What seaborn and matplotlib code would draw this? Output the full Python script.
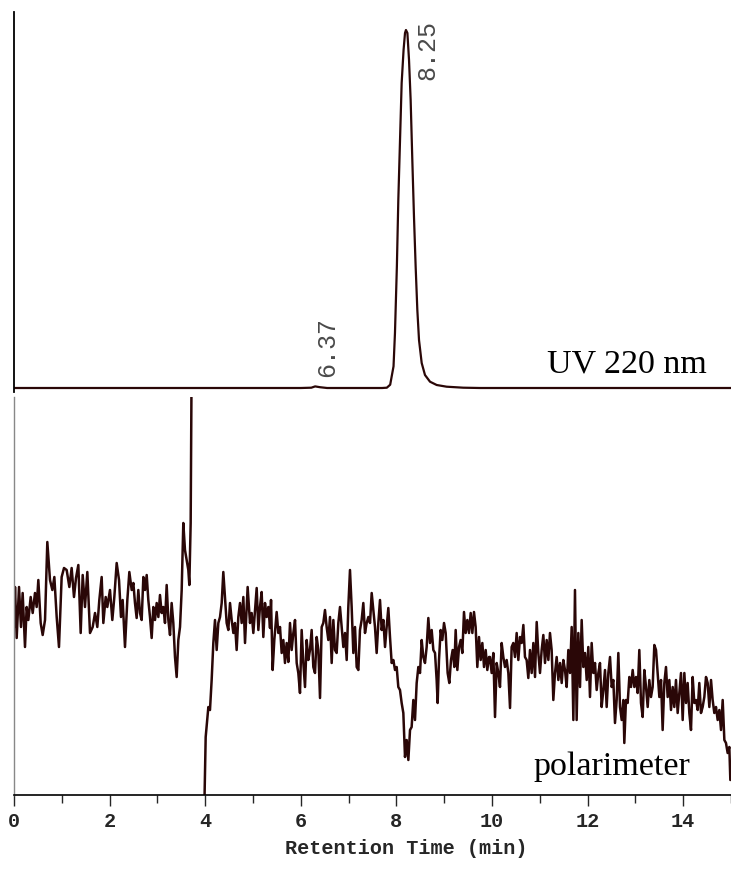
import numpy as np
import pandas as pd
import matplotlib
matplotlib.use("Agg")
import matplotlib.pyplot as plt
import seaborn as sns
from matplotlib.ticker import MultipleLocator

# UV 220 nm trace (mAU)
uv_time = [0.0, 6.0, 6.22, 6.30, 6.40, 6.55, 7.70, 7.80, 7.87, 7.94, 7.97, 8.01, 8.04,
           8.08, 8.11, 8.15, 8.18, 8.20, 8.23, 8.264, 8.298, 8.333, 8.368, 8.403,
           8.438, 8.473, 8.529, 8.598, 8.703, 8.843, 9.051, 9.40, 9.75, 15.0]
uv_mau = [0, 0, 0.3, 1.6, 0.8, 0, 0, 0.3, 3.3, 21.7, 55, 121.7, 188,
          255, 305, 338, 355, 358, 355, 328, 288, 228, 171, 121,
          78, 48, 25, 13, 6.3, 3, 1.3, 0.3, 0, 0]

# peak labels
peak_times = [6.37, 8.25]
peak_labels = ["6.37", "8.25"]
peak_label_pos = [(6.30, 11), (8.39, 308)]

# polarimeter trace, part 1 (before detector overload at ~3.7 min)
pol_time_1 = [0.0, 0.021, 0.056, 0.105, 0.146, 0.181, 0.230, 0.265, 0.300, 0.349, 0.391,
              0.439, 0.474, 0.509, 0.558, 0.600, 0.649, 0.697, 0.753, 0.802, 0.844,
              0.893, 0.941, 0.997, 1.046, 1.102, 1.158, 1.206, 1.255, 1.297, 1.346,
              1.395, 1.437, 1.485, 1.534, 1.590, 1.646, 1.695, 1.743, 1.785, 1.834,
              1.869, 1.918, 1.952, 2.008, 2.057, 2.099, 2.148, 2.197, 2.238, 2.273,
              2.322, 2.371, 2.413, 2.462, 2.497, 2.531, 2.566, 2.601, 2.636, 2.671,
              2.706, 2.741, 2.776, 2.810, 2.845, 2.880, 2.915, 2.950, 2.985, 3.020,
              3.054, 3.089, 3.124, 3.159, 3.194, 3.229, 3.264, 3.298, 3.333, 3.368,
              3.403, 3.438, 3.473, 3.508, 3.542, 3.577, 3.612, 3.647, 3.668, 3.696,
              3.717]
pol_sig_1 = [168, 208, 157, 208, 168, 202, 148, 188, 175, 198, 182,
             202, 188, 215, 172, 160, 175, 253, 215, 205, 218,
             178, 148, 218, 227, 225, 208, 227, 198, 217, 230,
             162, 220, 188, 223, 162, 168, 182, 168, 195, 218,
             172, 198, 188, 205, 175, 198, 232, 215, 178, 195,
             148, 195, 223, 205, 212, 192, 177, 205, 182, 175,
             218, 205, 220, 195, 178, 157, 188, 175, 192, 178,
             200, 182, 188, 172, 210, 175, 160, 192, 172, 138,
             118, 155, 168, 205, 272, 245, 235, 225, 210, 272,
             440]

# polarimeter trace, part 2 (after the signal comes back on scale)
pol_time_2 = [3.975, 4.010, 4.066, 4.100, 4.135, 4.170, 4.205, 4.240, 4.275, 4.310, 4.345,
              4.379, 4.414, 4.449, 4.484, 4.519, 4.554, 4.589, 4.623, 4.658, 4.693,
              4.728, 4.763, 4.798, 4.833, 4.888, 4.937, 4.972, 5.007, 5.042, 5.077,
              5.112, 5.146, 5.181, 5.216, 5.251, 5.286, 5.321, 5.356, 5.377, 5.411,
              5.446, 5.495, 5.530, 5.565, 5.600, 5.635, 5.669, 5.704, 5.739, 5.774,
              5.809, 5.844, 5.879, 5.914, 5.948, 5.983, 6.018, 6.053, 6.088, 6.123,
              6.158, 6.192, 6.227, 6.262, 6.297, 6.332, 6.367, 6.402, 6.437, 6.471,
              6.506, 6.541, 6.576, 6.611, 6.646, 6.681, 6.715, 6.750, 6.785, 6.820,
              6.855, 6.890, 6.925, 6.960, 6.994, 7.029, 7.064, 7.099, 7.134, 7.169,
              7.204, 7.238, 7.273, 7.308, 7.343, 7.378, 7.413, 7.448, 7.483, 7.517,
              7.552, 7.587, 7.622, 7.657, 7.692, 7.727, 7.762, 7.796, 7.831, 7.866,
              7.901, 7.936, 7.971, 8.006, 8.040, 8.075, 8.110, 8.145, 8.180, 8.215,
              8.250, 8.285, 8.319, 8.354, 8.389, 8.424, 8.459, 8.494, 8.529, 8.563,
              8.598, 8.633, 8.668, 8.703, 8.738, 8.773, 8.808, 8.842, 8.863, 8.891,
              8.926, 8.961, 8.996, 9.031, 9.072, 9.107, 9.142, 9.177, 9.212, 9.240,
              9.275, 9.310, 9.344, 9.379, 9.414, 9.449, 9.484, 9.519, 9.554, 9.589,
              9.623, 9.658, 9.693, 9.728, 9.763, 9.798, 9.833, 9.868, 9.902, 9.937,
              9.958, 9.993, 10.028, 10.063, 10.098, 10.133, 10.167, 10.202, 10.237, 10.272,
              10.307, 10.342, 10.377, 10.411, 10.446, 10.481, 10.516, 10.551, 10.586, 10.621,
              10.656, 10.690, 10.725, 10.760, 10.795, 10.830, 10.865, 10.900, 10.935, 10.969,
              11.004, 11.039, 11.074, 11.109, 11.144, 11.179, 11.213, 11.248, 11.283, 11.318,
              11.353, 11.388, 11.423, 11.458, 11.492, 11.527, 11.562, 11.597, 11.632, 11.667,
              11.702, 11.736, 11.771, 11.806, 11.841, 11.876, 11.911, 11.946, 11.981, 12.015,
              12.050, 12.085, 12.120, 12.155, 12.190, 12.225, 12.259, 12.294, 12.329, 12.364,
              12.399, 12.434, 12.469, 12.504, 12.538, 12.573, 12.608, 12.643, 12.678, 12.713,
              12.748, 12.768, 12.803, 12.838, 12.873, 12.908, 12.943, 12.978, 13.013, 13.047,
              13.082, 13.117, 13.152, 13.187, 13.222, 13.257, 13.291, 13.326, 13.361, 13.396,
              13.431, 13.466, 13.501, 13.536, 13.570, 13.605, 13.640, 13.675, 13.710, 13.745,
              13.780, 13.814, 13.849, 13.884, 13.919, 13.954, 13.989, 14.024, 14.059, 14.093,
              14.128, 14.163, 14.198, 14.233, 14.268, 14.303, 14.337, 14.372, 14.407, 14.442,
              14.477, 14.512, 14.547, 14.582, 14.616, 14.651, 14.686, 14.721, 14.756, 14.791,
              14.826, 14.861, 14.895, 14.930, 14.965, 14.986]
pol_sig_2 = [-30, 58, 88, 85, 115, 152, 175, 145, 172, 178, 192,
             223, 198, 172, 165, 192, 175, 162, 172, 145, 178,
             192, 172, 198, 152, 208, 172, 182, 162, 185, 207,
             165, 188, 203, 158, 192, 178, 188, 167, 195, 125,
             155, 183, 162, 168, 142, 155, 132, 152, 133, 172,
             145, 162, 175, 132, 122, 102, 165, 132, 108, 155,
             135, 145, 165, 128, 122, 158, 145, 97, 168, 172,
             185, 168, 155, 178, 132, 175, 145, 142, 172, 188,
             168, 148, 162, 135, 188, 225, 188, 142, 168, 128,
             125, 165, 175, 192, 162, 172, 178, 172, 202, 185,
             168, 142, 172, 195, 165, 175, 148, 168, 187, 158,
             132, 135, 125, 128, 108, 105, 92, 82, 38, 55,
             35, 65, 68, 95, 75, 112, 128, 122, 155, 138,
             132, 148, 177, 152, 165, 145, 142, 115, 92, 135,
             165, 155, 172, 162, 122, 112, 135, 145, 128, 165,
             125, 148, 155, 142, 183, 162, 175, 162, 182, 162,
             183, 168, 128, 158, 135, 152, 128, 145, 125, 138,
             138, 122, 142, 78, 132, 122, 108, 152, 138, 128,
             135, 122, 87, 148, 152, 138, 162, 135, 158, 152,
             170, 138, 135, 117, 145, 122, 152, 118, 173, 142,
             122, 145, 160, 132, 155, 135, 162, 145, 95, 122,
             138, 115, 132, 112, 135, 125, 108, 145, 122, 168,
             75, 205, 75, 162, 108, 175, 128, 142, 115, 148,
             98, 152, 122, 132, 105, 122, 132, 88, 105, 125,
             88, 122, 138, 108, 115, 72, 95, 142, 88, 75,
             95, 52, 95, 92, 118, 108, 125, 108, 118, 102,
             145, 92, 78, 125, 108, 88, 115, 98, 108, 150,
             145, 122, 98, 115, 65, 112, 128, 98, 115, 85,
             108, 88, 115, 82, 102, 122, 75, 122, 92, 112,
             82, 65, 118, 92, 95, 85, 112, 82, 88, 98,
             118, 112, 88, 115, 95, 82, 88, 75, 85, 65,
             95, 55, 52, 42, 48, 15]

TRACE_COLOR = "#2a0707"
FIG_W, FIG_H = 731, 875


def make_plot():
    sns.set_style("white")
    plt.rcParams["font.family"] = ["Liberation Mono", "DejaVu Sans"]

    uv = pd.DataFrame({"t": uv_time, "mAU": uv_mau})
    pol = pd.concat([
        pd.DataFrame({"t": pol_time_1, "signal": pol_sig_1, "segment": 1}),
        pd.DataFrame({"t": pol_time_2, "signal": pol_sig_2, "segment": 2}),
    ], ignore_index=True)

    fig = plt.figure(figsize=(FIG_W / 100, FIG_H / 100), dpi=100)
    left = 14 / FIG_W
    width = 1 - left
    ax_uv = fig.add_axes([left, 1 - 392 / FIG_H, width, 380 / FIG_H])
    ax_pol = fig.add_axes([left, 1 - 795 / FIG_H, width, 398 / FIG_H])

    # --- UV trace
    sns.lineplot(data=uv, x="t", y="mAU", ax=ax_uv, color=TRACE_COLOR, lw=1.6)
    ax_uv.set_xlim(0, 15)
    ax_uv.set_ylim(-4, 376)
    for s in ["top", "right", "bottom"]:
        ax_uv.spines[s].set_visible(False)
    ax_uv.spines["left"].set_color("black")
    ax_uv.spines["left"].set_linewidth(1.3)
    ax_uv.set_xticks([])
    ax_uv.set_yticks([])
    ax_uv.set_xlabel("")
    ax_uv.set_ylabel("")
    for lab, (tx, ty) in zip(peak_labels, peak_label_pos):
        ax_uv.text(tx, ty, lab, rotation=90, ha="left", va="bottom",
                   fontsize=18, color="#4a4a4a", family="Liberation Mono")
    ax_uv.text(14.5, 15, "UV 220 nm", ha="right", va="baseline",
               fontsize=24.5, family="Liberation Serif", color="black")

    # --- polarimeter trace
    sns.lineplot(data=pol, x="t", y="signal", units="segment", estimator=None,
                 ax=ax_pol, color=TRACE_COLOR, lw=1.8)
    ax_pol.set_xlim(0, 15)
    ax_pol.set_ylim(0, 398)
    for s in ["top", "right"]:
        ax_pol.spines[s].set_visible(False)
    ax_pol.spines["left"].set_color("#888888")
    ax_pol.spines["left"].set_linewidth(1.0)
    ax_pol.spines["bottom"].set_color("black")
    ax_pol.spines["bottom"].set_linewidth(1.2)
    ax_pol.set_yticks([])
    ax_pol.set_ylabel("")
    ax_pol.xaxis.set_major_locator(MultipleLocator(2))
    ax_pol.xaxis.set_minor_locator(MultipleLocator(1))
    ax_pol.tick_params(axis="x", which="major", direction="out", length=8, width=1,
                       bottom=True, labelsize=14.5, pad=4)
    ax_pol.tick_params(axis="x", which="minor", direction="out", length=5.5, width=1,
                       bottom=True)
    for lab in ax_pol.get_xticklabels():
        lab.set_fontweight("bold")
    ax_pol.set_xlabel("Retention Time (min)", fontsize=14.5, fontweight="bold")
    ax_pol.xaxis.set_label_coords(0.547, -0.11)
    ax_pol.text(14.15, 20, "polarimeter", ha="right", va="baseline",
                fontsize=24.5, family="Liberation Serif", color="black")

    fig.savefig("out.png", dpi=100)
    plt.close(fig)


if __name__ == "__main__":
    make_plot()
